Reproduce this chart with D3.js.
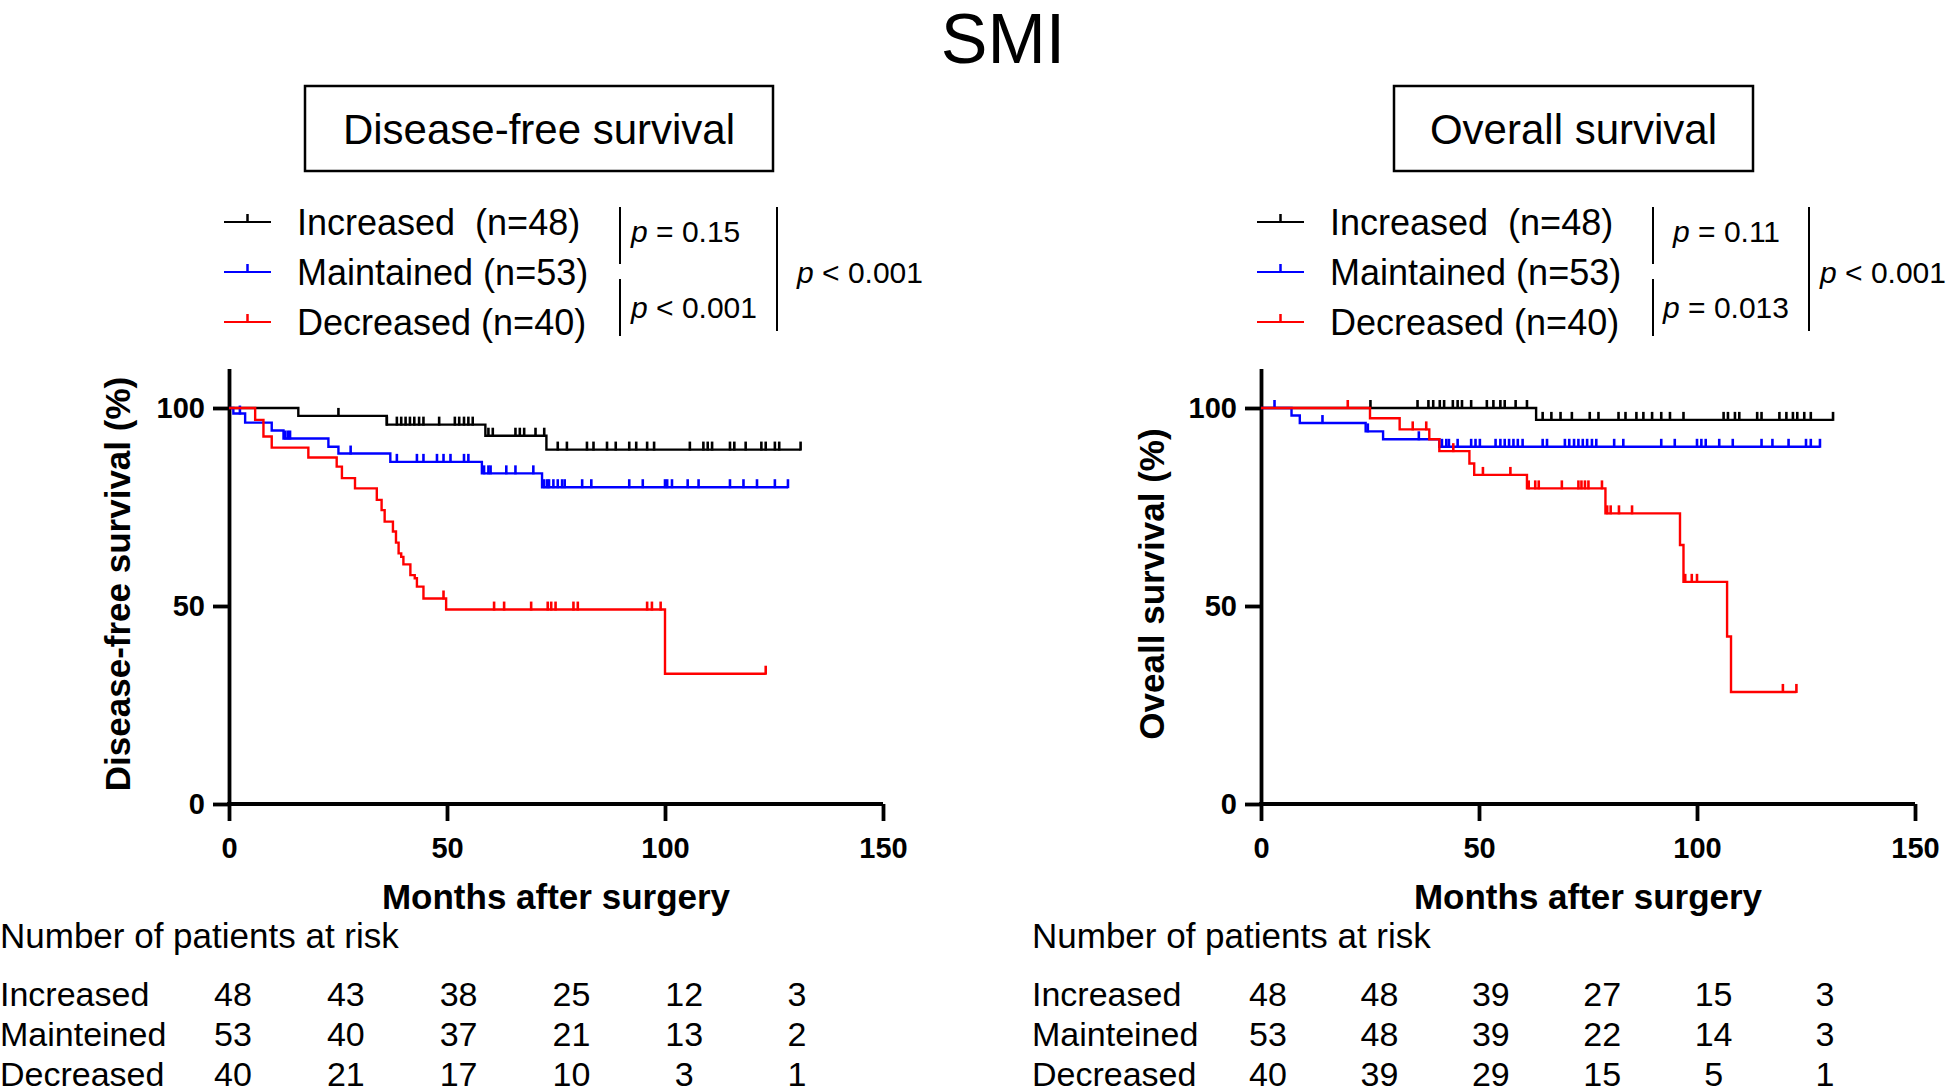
<!DOCTYPE html>
<html><head><meta charset="utf-8">
<script src="https://cdn.jsdelivr.net/npm/d3@7"></script>
<style>
html,body{margin:0;padding:0;background:#fff;}
svg{display:block;}
text{font-family:"Liberation Sans",Arial,Helvetica,sans-serif;fill:#000;}
</style></head><body>
<svg id="chart" width="1952" height="1092"></svg>
<script>
// ---------- DATA ----------
const groupNames = ["Increased", "Maintained", "Decreased"];
const groupColors = ["#000000", "#0000ff", "#ff0000"];
const legendLabels = ["Increased  (n=48)", "Maintained (n=53)", "Decreased (n=40)"];
const monthTicks = [0, 50, 100, 150];
const survTicks = [0, 50, 100];

// Disease-free survival (time in months, survival %)
const dfsIncT = [0, 15.9, 36.2, 58.8, 72.8];
const dfsIncS = [100, 98.0, 95.8, 93.0, 89.5];
const dfsIncEnd = 131.1;
const dfsIncCens = [25.1, 36.2, 38.5, 39.5, 40.5, 41.5, 42.5, 43.6, 44.6, 48.2, 51.8, 52.8, 53.9, 54.9, 55.9, 59.5, 60.5, 65.7, 66.7, 67.7, 70.3, 72.3, 75.4, 77.5, 82.1, 83.6, 86.7, 88.7, 91.8, 93.4, 95.9, 97.5, 105.7, 108.8, 109.8, 110.8, 114.9, 115.9, 118.5, 122.1, 123.1, 125.2, 126.2, 131.1];

const dfsMaiT = [0, 1.0, 3.7, 9.8, 12.5, 22.8, 25.1, 37.0, 58.0, 71.8];
const dfsMaiS = [100, 98.6, 96.3, 94.3, 92.3, 90.2, 88.5, 86.4, 83.5, 80.0];
const dfsMaiEnd = 128.2;
const dfsMaiCens = [2.5, 12.9, 13.5, 14.0, 27.9, 38.5, 43.1, 44.6, 47.7, 49.2, 50.8, 53.9, 54.9, 58.5, 59.5, 60.0, 63.6, 65.7, 69.8, 72.3, 73.0, 73.4, 74.4, 75.4, 76.4, 77.0, 81.0, 83.1, 91.8, 94.9, 100.0, 100.5, 101.6, 105.2, 107.7, 114.9, 118.0, 121.1, 125.2, 128.2];

const dfsDecT = [0, 6.0, 7.9, 9.8, 18.2, 24.7, 25.9, 28.9, 33.9, 35.0, 35.7, 37.6, 38.3, 38.9, 39.5, 40.0, 41.6, 42.6, 43.1, 44.6, 49.8, 100.0];
const dfsDecS = [100, 97.0, 92.8, 90.0, 87.5, 85.2, 82.3, 79.7, 76.8, 74.2, 71.3, 68.8, 66.0, 63.3, 62.4, 60.5, 57.8, 57.0, 54.9, 51.9, 49.1, 32.9];
const dfsDecEnd = 123.1;
const dfsDecCens = [49.2, 60.8, 63.1, 69.3, 73.1, 73.9, 74.9, 79.0, 80.0, 95.9, 97.0, 99.0, 123.1];

// Overall survival
const osIncT = [0, 63.1];
const osIncS = [100, 97.0];
const osIncEnd = 131.2;
const osIncCens = [25.1, 35.9, 38.4, 39.5, 41.0, 42.0, 44.0, 45.1, 46.1, 48.2, 51.8, 53.3, 54.9, 55.9, 58.4, 61.0, 64.6, 66.6, 68.7, 71.3, 75.4, 77.4, 82.0, 83.6, 86.1, 87.7, 89.7, 91.8, 93.8, 96.9, 106.1, 107.1, 108.7, 109.7, 113.8, 114.8, 118.9, 120.5, 122.0, 123.0, 124.6, 126.1, 131.2];

const osMaiT = [0, 7.0, 8.9, 24.0, 28.0, 40.9];
const osMaiS = [100, 98.1, 96.2, 94.1, 92.1, 90.2];
const osMaiEnd = 128.2;
const osMaiCens = [3.1, 14.1, 24.5, 36.2, 41.5, 42.5, 43.1, 45.1, 48.2, 49.2, 50.2, 53.8, 54.9, 55.9, 56.9, 57.9, 58.9, 60.0, 64.6, 65.6, 69.7, 70.7, 71.8, 72.8, 73.8, 74.8, 75.9, 76.9, 81.0, 83.1, 91.8, 94.9, 100.0, 101.0, 102.0, 105.1, 108.2, 114.8, 117.3, 121.0, 125.0, 126.1, 128.2];

const osDecT = [0, 25.0, 31.8, 38.6, 40.9, 47.8, 48.9, 61.0, 79.0, 96.1, 96.9, 106.9, 107.8];
const osDecS = [100, 97.4, 94.6, 92.1, 89.1, 86.0, 83.1, 79.7, 73.4, 65.4, 56.1, 42.3, 28.3];
const osDecEnd = 122.8;
const osDecCens = [19.9, 34.8, 37.9, 44.1, 50.9, 57.2, 61.4, 62.9, 63.7, 69.0, 72.8, 73.5, 74.3, 75.1, 78.2, 79.4, 80.2, 82.1, 85.1, 97.3, 98.8, 100.0, 119.7, 122.8];

// Numbers at risk
const riskTimes = [0, 25, 50, 75, 100, 125];
const riskRowLabels = ["Increased", "Mainteined", "Decreased"];
const dfsRiskInc = [48, 43, 38, 25, 12, 3];
const dfsRiskMai = [53, 40, 37, 21, 13, 2];
const dfsRiskDec = [40, 21, 17, 10, 3, 1];
const osRiskInc = [48, 48, 39, 27, 15, 3];
const osRiskMai = [53, 48, 39, 22, 14, 3];
const osRiskDec = [40, 39, 29, 15, 5, 1];

// ---------- DRAW ----------
const svg = d3.select("#chart");
const FONT = '"Liberation Sans",Arial,Helvetica,sans-serif';

svg.append("text").attr("x", 1003).attr("y", 63).attr("text-anchor", "middle")
  .style("font-size", "70px").text("SMI");

function stepValue(T, S, t) {
  let v = S[0];
  for (let i = 0; i < T.length; i++) if (T[i] <= t) v = S[i];
  return v;
}

function panel(cfg) {
  const x = d3.scaleLinear().domain([0, 150]).range([cfg.left, cfg.left + 654]);
  const y = d3.scaleLinear().domain([0, 110]).range([804, 804 - 110 * 3.96]);

  // title box
  svg.append("rect").attr("x", cfg.box[0]).attr("y", 86).attr("width", cfg.box[1] - cfg.box[0]).attr("height", 85)
    .attr("fill", "none").attr("stroke", "#000").attr("stroke-width", 2.5);
  svg.append("text").attr("x", (cfg.box[0] + cfg.box[1]) / 2).attr("y", 144).attr("text-anchor", "middle")
    .style("font-size", "42px").text(cfg.title);

  // legend
  cfg.series.forEach((s, i) => {
    const ly = 222 + i * 50;
    svg.append("line").attr("x1", cfg.legX).attr("x2", cfg.legX + 47).attr("y1", ly).attr("y2", ly)
      .attr("stroke", groupColors[i]).attr("stroke-width", 2.2);
    svg.append("line").attr("x1", cfg.legX + 23.5).attr("x2", cfg.legX + 23.5).attr("y1", ly).attr("y2", ly - 8)
      .attr("stroke", groupColors[i]).attr("stroke-width", 2.5);
    svg.append("text").attr("x", cfg.legX + 73).attr("y", ly + 13).style("font-size", "36px")
      .style("white-space", "pre").text(legendLabels[i]);
  });

  // p-value brackets
  const pb = cfg.pbar;
  svg.append("line").attr("x1", pb[0]).attr("x2", pb[0]).attr("y1", 207).attr("y2", 264).attr("stroke", "#000").attr("stroke-width", 2);
  svg.append("line").attr("x1", pb[0]).attr("x2", pb[0]).attr("y1", 279).attr("y2", 336).attr("stroke", "#000").attr("stroke-width", 2);
  svg.append("line").attr("x1", pb[1]).attr("x2", pb[1]).attr("y1", 207).attr("y2", 331).attr("stroke", "#000").attr("stroke-width", 2);
  function ptext(px, py, rest) {
    const t = svg.append("text").attr("x", px).attr("y", py).style("font-size", "30px").style("white-space", "pre");
    t.append("tspan").style("font-style", "italic").text("p");
    t.append("tspan").text(rest);
  }
  ptext(cfg.p1[0], 242, cfg.p1[1]);
  ptext(cfg.p2[0], 318, cfg.p2[1]);
  ptext(cfg.p3[0], 283, cfg.p3[1]);

  // axes
  const gx = svg.append("g").attr("transform", "translate(0,804)")
    .call(d3.axisBottom(x).tickValues(monthTicks).tickSize(17).tickPadding(16).tickSizeOuter(0));
  const gy = svg.append("g").attr("transform", `translate(${cfg.left},0)`)
    .call(d3.axisLeft(y).tickValues(survTicks).tickSize(16).tickPadding(8).tickSizeOuter(0));
  [gx, gy].forEach(g => {
    g.selectAll("path,line").attr("stroke", "#000").attr("stroke-width", 3.8);
    g.selectAll("text").style("font-size", "29px").style("font-weight", "bold").style("font-family", FONT);
  });
  gx.select("path.domain").attr("d", `M${cfg.left - 1.9},0H${cfg.left + 654}`);

  svg.append("text").attr("x", cfg.left + 327).attr("y", 909).attr("text-anchor", "middle")
    .style("font-size", "35px").style("font-weight", "bold").text("Months after surgery");
  svg.append("text").attr("transform", `translate(${cfg.ylabX},584) rotate(-90)`).attr("text-anchor", "middle")
    .attr("dy", "0.35em").style("font-size", "35px").style("font-weight", "bold").text(cfg.ylab);

  // curves
  const line = d3.line().x(d => x(d[0])).y(d => y(d[1])).curve(d3.curveStepAfter);
  cfg.series.forEach((s, i) => {
    const pts = s.T.map((t, k) => [t, s.S[k]]);
    pts.push([s.end, s.S[s.S.length - 1]]);
    svg.append("path").attr("d", line(pts)).attr("fill", "none")
      .attr("stroke", groupColors[i]).attr("stroke-width", 2.4);
    svg.append("g").selectAll("line").data(s.C).join("line")
      .attr("x1", c => x(c)).attr("x2", c => x(c))
      .attr("y1", c => y(stepValue(s.T, s.S, c)) + 1).attr("y2", c => y(stepValue(s.T, s.S, c)) - 8)
      .attr("stroke", groupColors[i]).attr("stroke-width", 2.6);
  });

  // risk table
  const rx = d3.scaleLinear().domain([0, 125]).range(cfg.riskRange);
  svg.append("text").attr("x", cfg.tableX).attr("y", 948).style("font-size", "35px").text("Number of patients at risk");
  cfg.risk.forEach((row, i) => {
    const ry = 1006 + i * 40;
    svg.append("text").attr("x", cfg.tableX).attr("y", ry).style("font-size", "34px").text(riskRowLabels[i]);
    svg.append("g").selectAll("text").data(row).join("text")
      .attr("x", (d, k) => rx(riskTimes[k])).attr("y", ry).attr("text-anchor", "middle")
      .style("font-size", "34px").text(d => d);
  });
}

panel({
  left: 229, box: [305, 773], title: "Disease-free survival", legX: 224,
  pbar: [620, 777], p1: [631, " = 0.15"], p2: [631, " < 0.001"], p3: [797, " < 0.001"],
  ylab: "Disease-free survival (%)", ylabX: 118,
  series: [
    {T: dfsIncT, S: dfsIncS, end: dfsIncEnd, C: dfsIncCens},
    {T: dfsMaiT, S: dfsMaiS, end: dfsMaiEnd, C: dfsMaiCens},
    {T: dfsDecT, S: dfsDecS, end: dfsDecEnd, C: dfsDecCens}
  ],
  risk: [dfsRiskInc, dfsRiskMai, dfsRiskDec], riskRange: [233, 797], tableX: 0
});

panel({
  left: 1261, box: [1394, 1753], title: "Overall survival", legX: 1257,
  pbar: [1653, 1809], p1: [1673, " = 0.11"], p2: [1663, " = 0.013"], p3: [1820, " < 0.001"],
  ylab: "Oveall survival (%)", ylabX: 1152,
  series: [
    {T: osIncT, S: osIncS, end: osIncEnd, C: osIncCens},
    {T: osMaiT, S: osMaiS, end: osMaiEnd, C: osMaiCens},
    {T: osDecT, S: osDecS, end: osDecEnd, C: osDecCens}
  ],
  risk: [osRiskInc, osRiskMai, osRiskDec], riskRange: [1268, 1825], tableX: 1032
});
</script></body></html>
